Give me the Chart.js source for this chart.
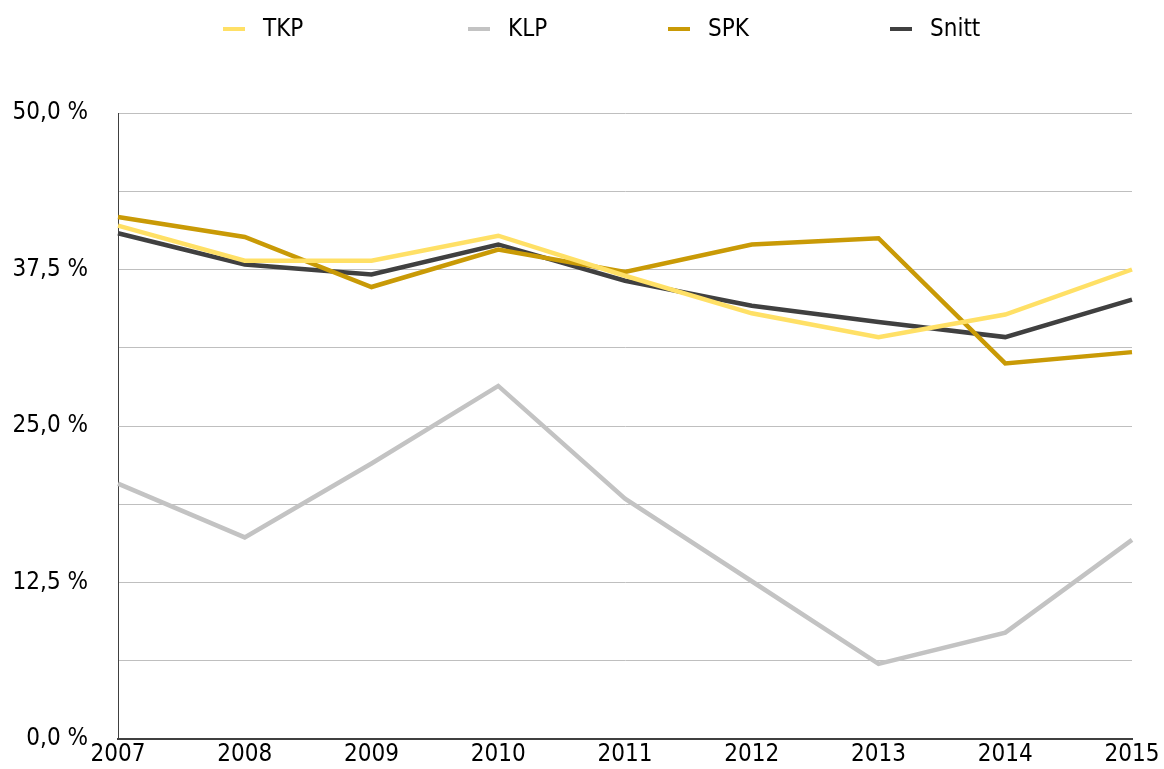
<!DOCTYPE html>
<html>
<head>
<meta charset="utf-8">
<script src="https://cdn.jsdelivr.net/npm/chart.js@4/dist/chart.umd.min.js"></script>
<style>
  html, body { margin: 0; padding: 0; background: #fff; }
  #wrap { position: relative; width: 1164px; height: 769px; }
  #legend { position: absolute; top: 12px; left: 0; width: 1164px; height: 32px; font-family: "Liberation Sans Narrow", "DejaVu Sans Condensed", sans-serif; font-size: 24px; color: #000; }
  #legend .item { position: absolute; top: 0; white-space: nowrap; line-height: 32px; }
  #legend .swatch { display: inline-block; width: 22px; height: 4px; vertical-align: middle; margin-right: 18px; }
</style>
</head>
<body>
<div id="wrap">
  <div id="legend"></div>
  <canvas id="chart" width="1164" height="769"></canvas>
</div>
<script>
var years = ["2007", "2008", "2009", "2010", "2011", "2012", "2013", "2014", "2015"];
var tkp   = [41.0, 38.2, 38.2, 40.2, 37.0, 34.0, 32.1, 33.9, 37.5];
var klp   = [20.4, 16.1, 22.0, 28.2, 19.2, 12.6, 6.0, 8.5, 15.9];
var spk   = [41.7, 40.1, 36.1, 39.1, 37.3, 39.5, 40.0, 30.0, 30.9];
var snitt = [40.4, 37.9, 37.1, 39.5, 36.6, 34.6, 33.3, 32.1, 35.1];

var seriesNames = ["TKP", "KLP", "SPK", "Snitt"];
var seriesColors = ["#FFE066", "#C3C3C3", "#C99A06", "#404040"];
var legendLeft = [223, 468, 668, 890];

var fontFamily = '"Liberation Sans Narrow", "DejaVu Sans Condensed", sans-serif';

function makeSet(i, values) {
  return {
    label: seriesNames[i],
    data: values,
    borderColor: seriesColors[i],
    backgroundColor: seriesColors[i],
    borderWidth: 4.5,
    pointRadius: 0,
    tension: 0,
    fill: false
  };
}

var ctx = document.getElementById("chart");
var chart = new Chart(ctx, {
  type: 'line',
  data: {
    labels: years,
    datasets: [makeSet(0, tkp), makeSet(1, klp), makeSet(2, spk), makeSet(3, snitt)]
  },
  options: {
    responsive: false,
    animation: false,
    layout: { padding: { top: 113, right: 32, left: 0, bottom: 0 } },
    plugins: {
      legend: { display: false },
      tooltip: { enabled: false }
    },
    scales: {
      x: {
        offset: false,
        grid: { display: false, drawTicks: false },
        border: { color: '#404040', width: 2 },
        ticks: { color: '#000', padding: 4, maxRotation: 0, autoSkip: false, font: { family: fontFamily, size: 24, lineHeight: 1 } },
        afterFit: function(scale) {
          scale.height = 30;
          scale.paddingLeft = 0;
          scale.paddingRight = 0;
        }
      },
      y: {
        min: 0,
        max: 50,
        grid: { color: '#BFBFBF', lineWidth: 1, drawTicks: false },
        border: { color: '#404040', width: 1 },
        ticks: {
          stepSize: 6.25,
          padding: 30,
          color: '#000',
          font: { family: fontFamily, size: 24 },
          callback: function(v) {
            if (Math.abs(v % 12.5) > 0.001) return '';
            return v.toFixed(1).replace('.', ',') + ' %';
          }
        },
        afterFit: function(scale) {
          scale.width = 118;
          scale.paddingTop = 0;
          scale.paddingBottom = 0;
        }
      }
    }
  }
});

// legend as html text, built from the chart datasets
var legendEl = document.getElementById('legend');
chart.data.datasets.forEach(function(ds, i) {
  var item = document.createElement('div');
  item.className = 'item';
  item.style.left = legendLeft[i] + 'px';
  var sw = document.createElement('span');
  sw.className = 'swatch';
  sw.style.background = ds.borderColor;
  item.appendChild(sw);
  item.appendChild(document.createTextNode(ds.label));
  legendEl.appendChild(item);
});
</script>
</body>
</html>
